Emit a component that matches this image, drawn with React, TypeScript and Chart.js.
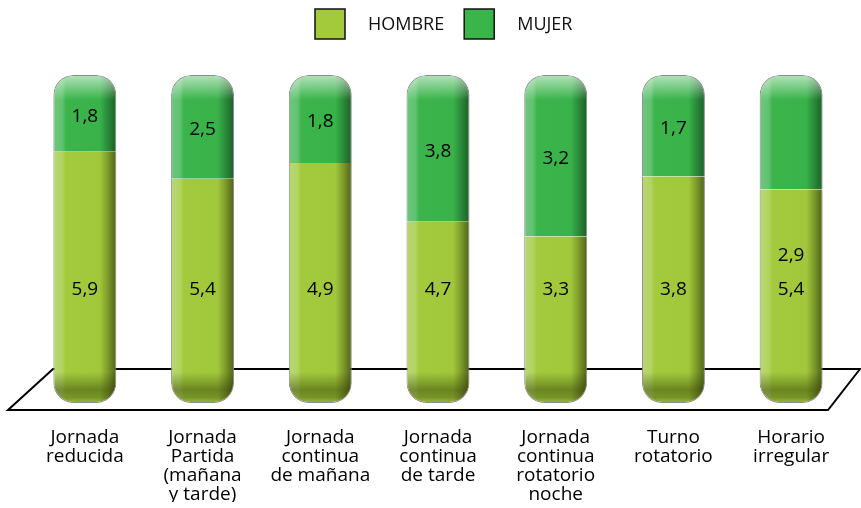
import React, { useEffect, useRef } from "react";
import { Chart, registerables } from "chart.js";

Chart.register(...registerables);

const categories: string[][] = [
  ["Jornada", "reducida"],
  ["Jornada", "Partida", "(mañana", "y tarde)"],
  ["Jornada", "continua", "de mañana"],
  ["Jornada", "continua", "de tarde"],
  ["Jornada", "continua", "rotatorio", "noche"],
  ["Turno", "rotatorio"],
  ["Horario", "irregular"],
];
const hombre = [5.9, 5.4, 4.9, 4.7, 3.3, 3.8, 5.4];
const mujer = [1.8, 2.5, 1.8, 3.8, 3.2, 1.7, 2.9];
const seriesNames = ["HOMBRE", "MUJER"];

const FONT = "'Open Sans', 'Liberation Sans', sans-serif";
const BAR_FRAC = 0.535;
const HOMBRE_LABEL_LEVEL = 34.5; // percent level where hombre labels sit
const MUJER_LABEL_OVERRIDE: Record<number, number> = { 6: 45 };

const fmt = (v: number) => v.toFixed(1).replace(".", ",");

const pct = (a: number[], b: number[]) => a.map((v, i) => (v / (v + b[i])) * 100);

function barGradient(ctx: any, kind: "h" | "m") {
  const chart = ctx.chart;
  const xs = chart.scales?.x;
  if (!chart.chartArea || !xs) return kind === "h" ? "#a2c93a" : "#39b54a";
  const i = ctx.dataIndex;
  const cw = xs.getPixelForValue(1) - xs.getPixelForValue(0);
  const cx = xs.getPixelForValue(i);
  const half = (cw * BAR_FRAC) / 2;
  const g = chart.ctx.createLinearGradient(cx - half, 0, cx + half, 0);
  if (kind === "h") {
    g.addColorStop(0, "#b8d870");
    g.addColorStop(0.14, "#b2d462");
    g.addColorStop(0.2, "#a3ca3c");
    g.addColorStop(0.74, "#a0c83a");
    g.addColorStop(0.86, "#7f9c2c");
    g.addColorStop(1, "#4f6218");
  } else {
    g.addColorStop(0, "#6cc87c");
    g.addColorStop(0.14, "#62c272");
    g.addColorStop(0.2, "#3bb54b");
    g.addColorStop(0.74, "#38b249");
    g.addColorStop(0.86, "#2a8c3a");
    g.addColorStop(1, "#1d5e27");
  }
  return g;
}

const floorPlugin = {
  id: "floor",
  beforeDatasetsDraw(chart: any) {
    const { ctx, chartArea } = chart;
    const topY = chartArea.bottom - 34;
    const botY = chartArea.bottom + 7;
    ctx.save();
    ctx.beginPath();
    ctx.moveTo(chartArea.left + 27, topY);
    ctx.lineTo(chart.width - 1, topY);
    ctx.lineTo(chart.width - 33, botY);
    ctx.lineTo(8, botY);
    ctx.closePath();
    ctx.strokeStyle = "#000";
    ctx.lineWidth = 2;
    ctx.stroke();
    ctx.restore();
  },
};

const shadePlugin = {
  id: "shade",
  afterDatasetsDraw(chart: any) {
    const { ctx } = chart;
    const mh = chart.getDatasetMeta(0);
    const mm = chart.getDatasetMeta(1);
    ctx.save();
    mh.data.forEach((el: any) => {
      const { x, base, width } = el.getProps(["x", "base", "width"], true);
      const l = x - width / 2 + 1;
      const w = width - 2;
      const b = base - 1;
      ctx.save();
      ctx.beginPath();
      ctx.roundRect(l, b - 40, w, 40, [0, 0, 19, 19]);
      ctx.clip();
      const g = ctx.createLinearGradient(0, b - 30, 0, b);
      g.addColorStop(0, "rgba(40,50,0,0)");
      g.addColorStop(0.6, "rgba(40,50,0,0.45)");
      g.addColorStop(0.85, "rgba(40,50,0,0.35)");
      g.addColorStop(1, "rgba(60,60,60,0.15)");
      ctx.fillStyle = g;
      ctx.fillRect(l, b - 40, w, 40);
      ctx.restore();
    });
    mm.data.forEach((el: any) => {
      const { x, y, width } = el.getProps(["x", "y", "width"], true);
      const l = x - width / 2 + 1;
      const w = width - 2;
      const t = y + 1;
      ctx.save();
      ctx.beginPath();
      ctx.roundRect(l, t, w, 30, [19, 19, 0, 0]);
      ctx.clip();
      const g = ctx.createLinearGradient(0, t, 0, t + 24);
      g.addColorStop(0, "rgba(255,255,255,0.6)");
      g.addColorStop(1, "rgba(255,255,255,0)");
      ctx.fillStyle = g;
      ctx.fillRect(l, t, w, 30);
      ctx.restore();
    });
    ctx.restore();
  },
};

const labelPlugin = {
  id: "labels",
  afterDatasetsDraw(chart: any) {
    const { ctx } = chart;
    const ys = chart.scales.y;
    const mm = chart.getDatasetMeta(1);
    ctx.save();
    ctx.font = `19px ${FONT}`;
    ctx.fillStyle = "#000";
    ctx.textAlign = "center";
    ctx.textBaseline = "middle";
    hombre.forEach((v, i) => {
      const el = mm.data[i];
      const x = el.x;
      ctx.fillText(fmt(v), x, ys.getPixelForValue(HOMBRE_LABEL_LEVEL));
      let my: number;
      if (MUJER_LABEL_OVERRIDE[i] !== undefined) my = ys.getPixelForValue(MUJER_LABEL_OVERRIDE[i]);
      else my = (el.y + el.base) / 2 + 3;
      ctx.fillText(fmt(mujer[i]), x, my);
    });
    ctx.restore();
  },
};

const legendPlugin = {
  id: "customLegend",
  afterDraw(chart: any) {
    const { ctx } = chart;
    const colors = ["#a3ca3a", "#3ab54a"];
    ctx.save();
    ctx.font = `18px ${FONT}`;
    ctx.textBaseline = "middle";
    ctx.textAlign = "left";
    let x = 315;
    seriesNames.forEach((name, i) => {
      ctx.fillStyle = colors[i];
      ctx.fillRect(x, 9, 30, 30);
      ctx.strokeStyle = "#111";
      ctx.lineWidth = 1.5;
      ctx.strokeRect(x, 9, 30, 30);
      ctx.fillStyle = "#111";
      ctx.fillText(name, x + 53, 25);
      x += 53 + ctx.measureText(name).width + 20;
    });
    ctx.restore();
  },
};

export default function App() {
  const ref = useRef<HTMLCanvasElement>(null);
  useEffect(() => {
    if (!ref.current) return;
    const chart = new Chart(ref.current, {
      type: "bar",
      data: {
        labels: categories,
        datasets: [
          {
            label: seriesNames[0],
            data: pct(hombre, mujer),
            backgroundColor: (c: any) => barGradient(c, "h"),
            borderColor: "#8c8c8c",
            borderWidth: 1,
            borderSkipped: "top",
            borderRadius: { topLeft: 0, topRight: 0, bottomLeft: 20, bottomRight: 20 },
          },
          {
            label: seriesNames[1],
            data: pct(mujer, hombre),
            backgroundColor: (c: any) => barGradient(c, "m"),
            borderColor: "#8c8c8c",
            borderWidth: 1,
            borderSkipped: "bottom",
            borderRadius: { topLeft: 20, topRight: 20, bottomLeft: 0, bottomRight: 0 },
          },
        ],
      },
      options: {
        animation: false,
        responsive: true,
        maintainAspectRatio: false,
        layout: { padding: { top: 75, left: 26, right: 11, bottom: 6 } },
        datasets: { bar: { categoryPercentage: 1, barPercentage: BAR_FRAC } },
        plugins: { legend: { display: false }, tooltip: { enabled: false } },
        scales: {
          x: {
            stacked: true,
            grid: { display: false },
            border: { display: false },
            afterFit: (s: any) => {
              s.height = 99;
            },
            ticks: {
              color: "#000",
              font: { family: FONT, size: 19, lineHeight: 1.0 },
              padding: 17,
              maxRotation: 0,
              autoSkip: false,
            },
          },
          y: { stacked: true, display: false, min: 0, max: 100 },
        },
      },
      plugins: [floorPlugin, shadePlugin, labelPlugin, legendPlugin],
    });
    return () => chart.destroy();
  }, []);
  return (
    <div style={{ position: "absolute", left: 0, top: 0, width: 861, height: 508 }}>
      <canvas ref={ref} />
    </div>
  );
}
